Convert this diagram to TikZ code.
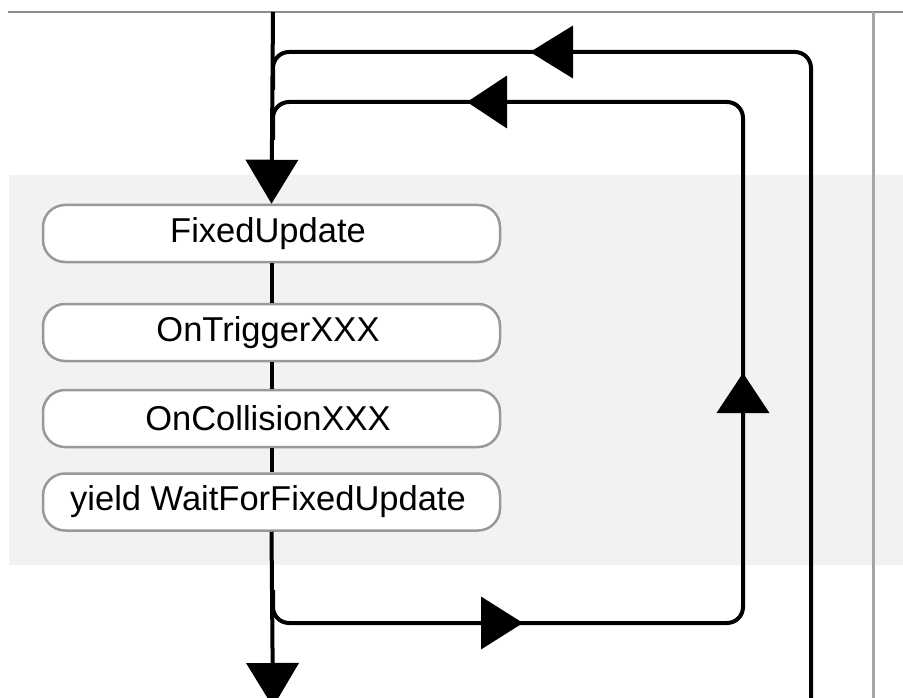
\documentclass[tikz,border=0pt]{standalone}
\usepackage{fontspec}
\setmainfont{Liberation Sans}
\usetikzlibrary{arrows.meta}
\definecolor{bandgray}{HTML}{F2F2F2}
\definecolor{boxgray}{HTML}{999999}
\definecolor{rulegray}{HTML}{8C8C8C}
\definecolor{sidegray}{HTML}{A6A6A6}
\begin{document}
\begin{tikzpicture}[x=1pt,y=-1pt,
  box/.style={draw=boxgray, fill=white, line width=2.5pt, rounded corners=22pt,
    minimum width=457pt, minimum height=57pt, inner sep=0pt,
    font=\fontsize{34.5}{40}\selectfont},
  flow/.style={line width=4pt, rounded corners=16pt},
  bigtip/.style={line width=4pt, -{Triangle[length=#1,width=52pt]}},
  bigtip/.default=44pt]
\useasboundingbox (0,0) rectangle (903,698);
% background band and frame lines
\fill[bandgray] (9,175) rectangle (903,565);
\draw[rulegray, line width=1.5pt] (8,12) -- (903,12);
\draw[sidegray, line width=3pt] (873,12) -- (873,698);
% named points
\coordinate (top) at (273,12);
\coordinate (bot) at (273,707);
% boxes
\node[box] (fu) at (271.5,233.5) {\hspace*{-7pt}FixedUpdate};
\node[box] (ot) at (271.5,332.5) {\hspace*{-7pt}OnTriggerXXX};
\node[box] (oc) at (271.5,418.5) {\hspace*{-7pt}OnCollisionXXX};
\node[box] (yw) at (271.5,502) {\hspace*{-7pt}yield WaitForFixedUpdate};
% loops
\draw[flow] (811,720) -- (811,52) -- (273,52) -- (273,90);
\draw[flow] (273,590) -- (273,623) -- (743,623) -- (743,102) -- (273,102) -- (273,140);
% main line
\draw[bigtip] (top) -- (fu.north);
\draw[line width=4pt] (fu.south) -- (ot.north);
\draw[line width=4pt] (ot.south) -- (oc.north);
\draw[line width=4pt] (oc.south) -- (yw.north);
\draw[bigtip] (yw.south) -- (bot);
% mid arrows
\draw[bigtip=43pt] (573,52) -- (530,52);
\draw[bigtip=40pt] (507,102) -- (467,102);
\draw[bigtip=40pt] (743,413) -- (743,373);
\draw[bigtip=42pt] (481,623) -- (523,623);
\end{tikzpicture}
\end{document}
